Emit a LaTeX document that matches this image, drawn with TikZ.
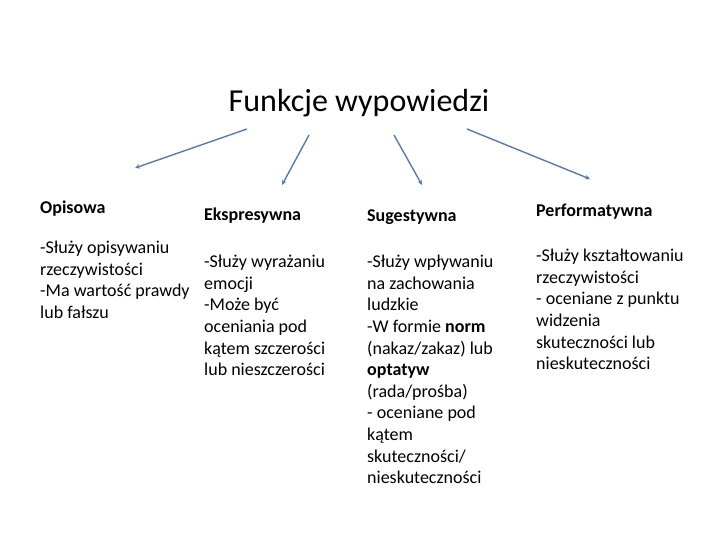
\documentclass[tikz,border=0pt]{standalone}
\usepackage{fontspec}
\setmainfont{Carlito}
\usetikzlibrary{arrows.meta, positioning}
\definecolor{linkblue}{HTML}{5B7BA0}
\tikzset{
  heading/.style={
    anchor=base, inner sep=0pt,
    font=\fontsize{32}{38}\selectfont
  },
  kind/.style={
    anchor=base west, inner sep=0pt,
    font=\fontsize{18}{22}\selectfont\bfseries
  },
  desc/.style={
    anchor=north west, inner sep=0pt, align=left,
    font=\fontsize{18}{21.6}\selectfont
  },
  arrow/.style={-{Stealth[length=5pt,width=4.5pt]}, line width=1.4pt, draw=linkblue}
}

\begin{document}
\begin{tikzpicture}[x=1pt, y=-1pt]
  \useasboundingbox (0,0) rectangle (720,540);

  \node[heading] (title) at (359,112) {Funkcje wypowiedzi};

  \node[kind] (opis) at (40,214) {Opisowa};
  \node[kind] (ekspr) at (204,221) {Ekspresywna};
  \node[kind] (suges) at (367,222) {Sugestywna};
  \node[kind] (perf) at (536,216) {Performatywna};

  \node[desc] (opisT) at (40,241) {-Służy opisywaniu\\rzeczywistości\\-Ma wartość prawdy\\lub fałszu};
  \node[desc] (eksprT) at (204,255) {-Służy wyrażaniu\\emocji\\-Może być\\oceniania pod\\kątem szczerości\\lub nieszczerości};
  \node[desc] (sugesT) at (367,255) {-Służy wpływaniu\\na zachowania\\ludzkie\\-W formie \textbf{norm}\\(nakaz/zakaz) lub\\\textbf{optatyw}\\(rada/prośba)\\- oceniane pod\\kątem\\skuteczności/\\nieskuteczności};
  \node[desc] (perfT) at (536,249) {-Służy kształtowaniu\\rzeczywistości\\- oceniane z punktu\\widzenia\\skuteczności lub\\nieskuteczności};

  % arrow ends
  \coordinate (s1) at (247,129);
  \coordinate (e1) at (135,168);
  \coordinate (s2) at (309,135);
  \coordinate (e2) at (282,185);
  \coordinate (s3) at (394,135);
  \coordinate (e3) at (422,185);
  \coordinate (s4) at (467,129);
  \coordinate (e4) at (590,179);

  \draw[arrow] (s1) -- (e1);
  \draw[arrow] (s2) -- (e2);
  \draw[arrow] (s3) -- (e3);
  \draw[arrow] (s4) -- (e4);
\end{tikzpicture}
\end{document}
